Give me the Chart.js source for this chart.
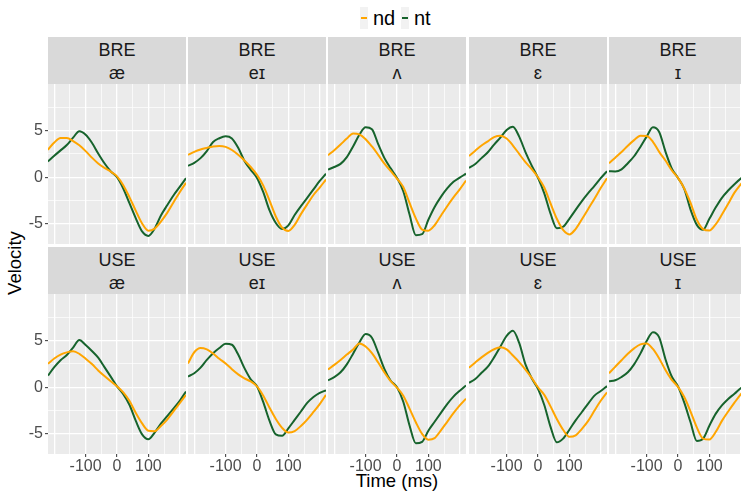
<!DOCTYPE html>
<html>
<head>
<meta charset="utf-8">
<script src="https://cdn.jsdelivr.net/npm/chart.js@4.4.1/dist/chart.umd.min.js"></script>
<style>
  html, body { margin: 0; padding: 0; background: #fff; width: 741px; height: 493px; overflow: hidden; }
  body { position: relative; font-family: "Liberation Sans", Arial, sans-serif; }
  canvas { position: absolute; }
  .strip { position: absolute; background: #d9d9d9; color: #1a1a1a; font-size: 18px; line-height: 22.6px;
           text-align: center; box-sizing: border-box; padding-top: 2px; white-space: nowrap; }
  .title { position: absolute; color: #000; font-size: 18.5px; white-space: nowrap; }
  .key { position: absolute; top: 7px; width: 8px; height: 22px; background: #f2f2f2; }
  .key span { position: absolute; left: 1px; right: 1px; top: 10px; height: 2px; }
  .ltext { position: absolute; top: 5px; font-size: 20px; line-height: 26px; color: #000; }
</style>
</head>
<body>
<script>
// time axis (ms) and facet labels
const times = [-220, -200, -180, -160, -140, -120, -100, -80, -60, -40, -20, 0, 20, 40, 60, 80, 100, 120, 140, 160, 180, 200, 220];
const dialects = ['BRE', 'USE'];
const vowels = ['æ', 'eɪ', 'ʌ', 'ɛ', 'ɪ'];
const groups = ['nd', 'nt'];
const xGrid = [-200, -150, -100, -50, 0, 50, 100, 150, 200];
const xLabels = [-100, 0, 100];
const yGrid = [-5, -2.5, 0, 2.5, 5, 7.5];
const yLabels = [-5, 0, 5];

// velocity curves, one array per facet and group
const nd_BRE_ae = [2.95, 3.72, 4.2, 4.2, 3.88, 3.42, 2.8, 2.1, 1.48, 1.0, 0.6, 0.1, -0.85, -2.15, -3.6, -4.95, -5.72, -5.5, -4.75, -3.82, -2.7, -1.6, -0.6];
const nt_BRE_ae = [1.7, 2.3, 2.88, 3.45, 4.25, 4.92, 4.55, 3.7, 2.55, 1.5, 0.63, 0, -1.2, -2.8, -4.4, -5.8, -6.28, -5.5, -4.1, -3.0, -1.95, -1.03, -0.1];
const nd_BRE_ei = [2.4, 2.72, 2.97, 3.15, 3.3, 3.35, 3.25, 2.92, 2.42, 1.8, 1.1, 0.25, -0.9, -2.5, -4.2, -5.4, -5.75, -5.1, -3.95, -2.9, -1.9, -1.1, -0.25];
const nt_BRE_ei = [1.22, 1.55, 2.05, 2.8, 3.78, 4.18, 4.38, 4.15, 3.15, 1.75, 0.8, -0.07, -1.6, -3.55, -4.9, -5.54, -5.15, -4.05, -3.1, -2.21, -1.3, -0.4, 0.38];
const nd_BRE_uh = [2.36, 2.9, 3.5, 4.15, 4.7, 4.6, 4.08, 3.3, 2.4, 1.45, 0.65, -0.14, -1.05, -2.75, -4.4, -5.6, -5.72, -5.14, -4.12, -3.1, -2.15, -1.3, -0.35];
const nt_BRE_uh = [0.82, 1.1, 1.43, 2.15, 3.3, 4.55, 5.35, 5.15, 3.55, 2.05, 0.95, -0.07, -1.5, -4.0, -6.2, -6.1, -4.55, -3.18, -2.1, -1.2, -0.48, -0.04, 0.38];
const nd_BRE_eh = [2.28, 2.85, 3.4, 3.85, 4.3, 4.45, 4.15, 3.4, 2.5, 1.62, 0.88, 0.0, -1.1, -2.8, -4.45, -5.65, -6.12, -5.55, -4.5, -3.4, -2.3, -1.15, -0.1];
const nt_BRE_eh = [1.0, 1.42, 2.05, 2.68, 3.5, 4.25, 5.06, 5.4, 4.35, 2.7, 1.25, -0.07, -1.72, -3.9, -5.45, -5.3, -4.45, -3.5, -2.55, -1.7, -0.92, -0.1, 0.65];
const nd_BRE_ih = [1.5, 2.1, 2.7, 3.38, 3.98, 4.45, 4.42, 3.8, 2.72, 1.8, 0.75, -0.07, -1.2, -2.75, -4.55, -5.55, -5.7, -5.05, -4.0, -2.85, -1.65, -0.75, 0.0];
const nt_BRE_ih = [0.64, 0.62, 0.85, 1.5, 2.25, 3.25, 4.35, 5.35, 4.85, 2.75, 0.95, -0.07, -1.25, -3.46, -5.1, -5.62, -4.45, -3.25, -2.2, -1.42, -0.75, -0.15, 0.3];
const nd_USE_ae = [2.52, 3.08, 3.5, 3.74, 3.85, 3.58, 3.05, 2.48, 1.8, 1.2, 0.64, 0.1, -0.55, -1.48, -2.75, -3.87, -4.65, -4.7, -4.15, -3.46, -2.58, -1.7, -0.82];
const nt_USE_ae = [1.25, 2.15, 2.9, 3.45, 4.25, 5.05, 4.53, 3.89, 3.17, 2.16, 1.14, 0.1, -0.75, -1.9, -3.6, -5.05, -5.57, -4.85, -3.9, -3.1, -2.3, -1.45, -0.45];
const nd_USE_ei = [2.55, 3.75, 4.2, 4.05, 3.62, 3.05, 2.55, 1.93, 1.38, 0.95, 0.62, 0.1, -0.9, -2.2, -3.4, -4.35, -4.85, -4.7, -4.15, -3.46, -2.65, -1.8, -0.82];
const nt_USE_ei = [1.15, 1.5, 2.1, 2.93, 3.65, 4.2, 4.65, 4.55, 3.5, 2.05, 0.85, 0.1, -1.6, -3.6, -5.05, -5.2, -4.4, -3.5, -2.6, -1.68, -1.05, -0.6, -0.33];
const nd_USE_uh = [1.9, 2.4, 2.93, 3.5, 4.05, 4.7, 4.37, 3.65, 2.65, 1.58, 0.65, -0.04, -0.9, -2.29, -3.75, -5.0, -5.62, -5.45, -4.62, -3.7, -2.78, -1.95, -1.22];
const nt_USE_uh = [0.75, 1.08, 1.6, 2.45, 3.6, 4.8, 5.7, 5.3, 3.7, 1.95, 0.7, 0, -1.55, -4.1, -6.0, -5.85, -4.65, -3.7, -2.75, -1.8, -1.0, -0.38, 0.2];
const nd_USE_eh = [2.1, 2.66, 3.2, 3.68, 4.07, 4.28, 4.05, 3.4, 2.7, 1.9, 1.0, 0.0, -0.82, -2.05, -3.4, -4.55, -5.3, -5.15, -4.45, -3.6, -2.5, -1.45, -0.55];
const nt_USE_eh = [0.48, 0.88, 1.55, 2.2, 3.2, 4.35, 5.5, 6.05, 4.75, 2.45, 0.95, -0.18, -1.9, -4.25, -5.9, -5.5, -4.55, -3.55, -2.65, -1.75, -0.9, -0.4, 0.12];
const nd_USE_ih = [1.5, 2.2, 2.9, 3.58, 4.17, 4.6, 4.7, 4.1, 3.08, 1.85, 0.8, 0.04, -1.05, -2.6, -4.3, -5.5, -5.6, -4.8, -3.6, -2.6, -1.65, -0.75, 0.0];
const nt_USE_ih = [0.64, 0.75, 1.1, 1.6, 2.45, 3.6, 4.95, 5.9, 5.35, 3.0, 1.15, 0.1, -1.65, -3.75, -5.75, -5.5, -4.12, -2.85, -1.95, -1.25, -0.7, -0.1, 0.3];

const series = {
  BRE: { nd: [nd_BRE_ae, nd_BRE_ei, nd_BRE_uh, nd_BRE_eh, nd_BRE_ih],
         nt: [nt_BRE_ae, nt_BRE_ei, nt_BRE_uh, nt_BRE_eh, nt_BRE_ih] },
  USE: { nd: [nd_USE_ae, nd_USE_ei, nd_USE_uh, nd_USE_eh, nd_USE_ih],
         nt: [nt_USE_ae, nt_USE_ei, nt_USE_uh, nt_USE_eh, nt_USE_ih] }
};
const colors = { nd: '#FFA500', nt: '#16632c' };

// layout of the facet grid
const colLeft = [48, 188, 328, 469, 609];
const stripTop = [37, 247];
const stripH = 47;
const panelW = 138;
const panelH = 160;
const axisW = 48;
const axisH = 30;
const font = "'Liberation Sans', Arial, sans-serif";

// grey panel background behind the grid
const panelBg = {
  id: 'panelBg',
  beforeDraw(chart) {
    const { ctx, chartArea: a } = chart;
    ctx.save();
    ctx.fillStyle = '#ebebeb';
    ctx.fillRect(a.left, a.top, a.width, a.height);
    ctx.restore();
  }
};

// no label padding, so every panel keeps the same plot area
function noPad(s) {
  s.paddingTop = 0; s.paddingBottom = 0; s.paddingLeft = 0; s.paddingRight = 0;
}

function addDiv(cls, css, html) {
  const d = document.createElement('div');
  d.className = cls;
  Object.assign(d.style, css);
  d.innerHTML = html;
  document.body.appendChild(d);
  return d;
}

// legend
addDiv('key', { left: '360px' }, '<span style="background:' + colors.nd + '"></span>');
addDiv('ltext', { left: '373px' }, 'nd');
addDiv('key', { left: '401px' }, '<span style="background:' + colors.nt + '"></span>');
addDiv('ltext', { left: '414px' }, 'nt');

// axis titles
addDiv('title', { left: '397px', top: '469.5px', transform: 'translateX(-50%)' }, 'Time (ms)');
addDiv('title', { left: '15px', top: '263px', transform: 'translate(-50%, -50%) rotate(-90deg)' }, 'Velocity');

dialects.forEach((dia, r) => {
  vowels.forEach((vow, c) => {
    addDiv('strip', {
      left: colLeft[c] + 'px', top: stripTop[r] + 'px', width: panelW + 'px', height: stripH + 'px'
    }, dia + '<br>' + vow);

    const left = c === 0 ? 0 : colLeft[c];
    const w = panelW + (c === 0 ? axisW : 0);
    const h = panelH + (r === 1 ? axisH : 0);
    const cv = document.createElement('canvas');
    cv.width = w; cv.height = h;
    cv.style.left = left + 'px';
    cv.style.top = (stripTop[r] + stripH) + 'px';
    cv.style.width = w + 'px'; cv.style.height = h + 'px';
    document.body.appendChild(cv);

    new Chart(cv.getContext('2d'), {
      type: 'line',
      data: {
        datasets: groups.map(g => ({
          label: g,
          data: times.map((t, i) => ({ x: t, y: series[dia][g][c][i] })),
          borderColor: colors[g],
          borderWidth: 2,
          pointRadius: 0,
          fill: false,
          cubicInterpolationMode: 'monotone'
        }))
      },
      options: {
        responsive: false,
        animation: false,
        devicePixelRatio: 1,
        layout: { padding: 0, autoPadding: false },
        plugins: { legend: { display: false }, tooltip: { enabled: false } },
        scales: {
          x: {
            type: 'linear', min: -220, max: 220,
            afterBuildTicks: s => { s.ticks = xGrid.map(v => ({ value: v })); },
            afterFit: s => { s.height = r === 1 ? axisH : 0; noPad(s); },
            border: { display: false },
            grid: {
              color: '#ffffff',
              lineWidth: ctx => (ctx.tick && ctx.tick.value % 100 === 0) ? 1.3 : 0.7,
              tickLength: 3, tickWidth: 1,
              tickColor: ctx => (ctx.tick && xLabels.includes(ctx.tick.value)) ? '#333333' : 'rgba(0,0,0,0)'
            },
            ticks: {
              display: r === 1, autoSkip: false, maxRotation: 0, padding: 0,
              color: '#4d4d4d', font: { size: 16, family: font },
              callback: v => xLabels.includes(v) ? String(v) : ''
            }
          },
          y: {
            type: 'linear', min: -7.15, max: 9.99,
            afterBuildTicks: s => { s.ticks = yGrid.map(v => ({ value: v })); },
            afterFit: s => { s.width = c === 0 ? axisW : 0; noPad(s); },
            border: { display: false },
            grid: {
              color: '#ffffff',
              lineWidth: ctx => (ctx.tick && ctx.tick.value % 5 === 0) ? 1.3 : 0.7,
              tickLength: 3, tickWidth: 1,
              tickColor: ctx => (ctx.tick && yLabels.includes(ctx.tick.value)) ? '#333333' : 'rgba(0,0,0,0)'
            },
            ticks: {
              display: c === 0, autoSkip: false, padding: 2,
              color: '#4d4d4d', font: { size: 16, family: font },
              callback: v => yLabels.includes(v) ? String(v) : ''
            }
          }
        }
      },
      plugins: [panelBg]
    });
  });
});
</script>
</body>
</html>
